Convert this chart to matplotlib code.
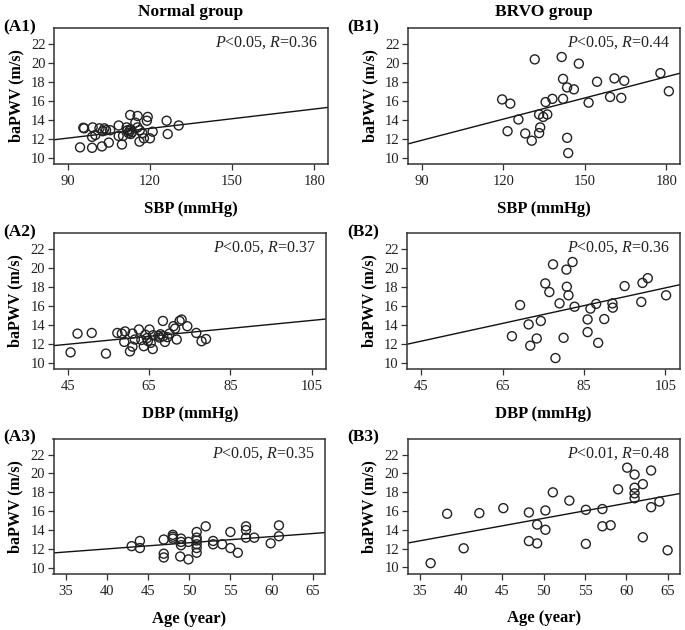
import numpy as np
import matplotlib
matplotlib.use("Agg")
import matplotlib.pyplot as plt

plt.rcParams['font.family'] = ['Liberation Serif', 'DejaVu Serif']
plt.rcParams['mathtext.fontset'] = 'custom'
plt.rcParams['mathtext.rm'] = 'Liberation Serif'
plt.rcParams['mathtext.it'] = 'Liberation Serif:italic'

# ---------------- data ----------------
# Normal group: SBP vs baPWV
a1_x = [94.5, 95.7, 96.0, 98.9, 99.1, 98.9, 100.1, 101.6, 102.5, 102.8, 103.4, 104.0, 105.0, 105.5,
        108.6, 108.6, 109.8, 110.2, 111.5, 111.8, 112.2, 112.8, 112.9, 113.5, 114.7, 115.5, 115.5,
        116.3, 116.2, 117.2, 117.8, 118.9, 119.2, 120.0, 121.0, 126.1, 126.5, 130.5, 112.5, 113.0]
a1_y = [11.1, 13.16, 13.1, 11.05, 13.2, 12.2, 12.4, 13.1, 11.2, 12.8, 13.1, 12.9, 11.6, 12.9,
        13.4, 12.3, 11.4, 12.3, 13.2, 12.9, 12.6, 14.5, 13.0, 12.7, 13.7, 14.4, 13.2,
        12.9, 11.7, 12.6, 12.05, 13.9, 14.3, 12.05, 12.75, 13.9, 12.5, 13.4, 12.8, 12.5]

# Normal group: DBP vs baPWV
a2_x = [45.7, 47.4, 50.9, 54.4, 57.2, 58.3, 59.1, 58.9, 60.3, 60.9, 60.9, 61.5, 62.5, 63.1, 63.7,
        64.1, 64.5, 64.7, 65.1, 65.4, 65.9, 67.3, 67.6, 67.8, 68.4, 68.5, 68.9, 70.0, 71.0, 71.4,
        71.8, 72.5, 73.0, 74.4, 76.6, 77.9, 79.0, 66.0, 69.5]
a2_y = [11.1, 13.07, 13.14, 10.97, 13.14, 13.07, 13.3, 12.2, 11.2, 11.7, 13.07, 12.45, 13.5, 12.4, 11.75,
        12.95, 12.6, 12.3, 13.5, 12.1, 11.45, 12.85, 12.65, 13.0, 14.4, 12.8, 12.2, 13.07, 13.85, 13.6,
        12.45, 14.4, 14.55, 13.85, 13.14, 12.27, 12.5, 12.9, 12.7]

# Normal group: Age vs baPWV
a3_x = [43, 44, 44, 46.9, 46.9, 46.9, 48, 48, 48, 49, 49, 49, 48.9, 49.9, 49.9, 50.9, 50.9, 50.9,
        50.9, 50.9, 50.9, 52, 52.9, 52.9, 54, 55, 55, 55.9, 56.9, 56.9, 56.9, 57.9, 59.9, 60.9, 60.9]
a3_y = [12.3, 12.85, 12.1, 13.0, 11.5, 11.1, 13.5, 13.3, 13.1, 13.1, 12.75, 12.4, 11.2, 12.75, 10.9,
        13.8, 13.2, 12.9, 12.5, 12.1, 11.6, 14.4, 12.85, 12.5, 12.5, 13.8, 12.1, 11.6, 14.4, 14.0,
        13.2, 13.2, 12.6, 14.5, 13.35]

# BRVO group: SBP vs baPWV
b1_x = [119.6, 122.6, 121.6, 125.6, 128.1, 131.6, 130.5, 133.2, 133.6, 133.2, 134.7, 135.6, 136.2,
        138.1, 141.5, 142.0, 142.0, 143.5, 143.5, 143.9, 146.0, 147.8, 151.4, 154.5, 159.3, 160.9,
        163.4, 164.5, 177.8, 180.9]
b1_y = [16.14, 15.7, 12.8, 14.03, 12.56, 20.35, 11.8, 12.6, 13.2, 14.56, 14.3, 15.86, 14.56,
        16.2, 20.6, 18.3, 16.2, 17.4, 12.1, 10.5, 17.2, 19.9, 15.8, 18.0, 16.4, 18.35,
        16.3, 18.1, 18.9, 17.0]

# BRVO group: DBP vs baPWV
b2_x = [67.3, 69.3, 71.4, 71.8, 73.4, 74.4, 75.5, 76.5, 77.4, 78.0, 79.0, 80.0, 80.7, 80.8, 81.2,
        82.2, 82.7, 85.9, 85.9, 86.6, 88.0, 88.5, 90.0, 92.0, 92.1, 95.0, 99.1, 99.4, 100.7, 105.2]
b2_y = [12.8, 16.07, 14.04, 11.8, 12.56, 14.4, 18.35, 17.44, 20.35, 10.5, 16.25, 12.63, 19.8, 18.0, 17.1,
        20.6, 15.9, 14.56, 13.23, 15.7, 16.2, 12.1, 14.6, 16.25, 15.8, 18.07, 16.4, 18.4, 18.9, 17.1]

# BRVO group: Age vs baPWV
b3_x = [36.3, 38.3, 40.3, 42.2, 45.1, 48.2, 48.2, 49.2, 49.2, 50.2, 50.2, 51.1, 53.1, 55.1, 55.1,
        57.1, 57.1, 58.1, 59.0, 60.1, 61.0, 61.0, 61.0, 61.0, 62.0, 62.0, 63.0, 63.0, 64.0, 65.0]
b3_y = [10.45, 15.7, 12.03, 15.77, 16.3, 15.84, 12.8, 12.55, 14.55, 16.05, 14.0, 17.98, 17.1, 16.12, 12.5,
        16.2, 14.37, 14.48, 18.3, 20.6, 19.87, 18.47, 17.87, 17.35, 18.85, 13.2, 20.3, 16.4, 17.0, 11.82]

# regression lines (intercept, slope)
fit_intercepts = [9.01, 10.07, 9.40, 5.15, 8.08, 7.24]
fit_slopes = [0.034, 0.0418, 0.0652, 0.0743, 0.0933, 0.1596]

panel_labels = ['(A1)', '(A2)', '(A3)', '(B1)', '(B2)', '(B3)']
stats_text = [r'$P$<0.05, $R$=0.36', r'$P$<0.05, $R$=0.37', r'$P$<0.05, $R$=0.35',
              r'$P$<0.05, $R$=0.44', r'$P$<0.05, $R$=0.36', r'$P$<0.01, $R$=0.48']
x_labels = ['SBP (mmHg)', 'DBP (mmHg)', 'Age (year)']
x_ticks = [[90, 120, 150, 180], [45, 65, 85, 105], [35, 40, 45, 50, 55, 60, 65]]
x_lims = [(85, 185), (41.5, 108.5), (33.5, 66.5)]
y_ticks = [10, 12, 14, 16, 18, 20, 22]
group_titles = ['Normal group', 'BRVO group']

xs = [a1_x, a2_x, a3_x, b1_x, b2_x, b3_x]
ys = [a1_y, a2_y, a3_y, b1_y, b2_y, b3_y]

# ---------------- layout (pixels) ----------------
W, H = 685, 630
fig = plt.figure(figsize=(W / 100, H / 100), dpi=100)

# left, right, top, bottom in pixels
boxes = [(54, 328, 28, 164), (53.5, 326, 233, 369), (53.5, 325, 439, 574),
         (408, 680, 28, 164), (407, 679.5, 233, 369), (407.5, 680, 439, 573.5)]

spine_col = '#333333'
for i in range(6):
    l, r, t, b = boxes[i]
    ax = fig.add_axes([l / W, (H - b) / H, (r - l) / W, (b - t) / H])
    row = i % 3
    ax.scatter(xs[i], ys[i], s=42, facecolors='none', edgecolors='#222222', linewidths=1.0, zorder=3)
    xl = np.array(x_lims[row])
    ax.plot(xl, fit_intercepts[i] + fit_slopes[i] * xl, color='#111111', lw=1.0, zorder=2)
    ax.set_xlim(*x_lims[row])
    ax.set_ylim(9.35, 23.65)
    ax.set_xticks(x_ticks[row])
    ax.set_yticks(y_ticks)
    ax.tick_params(axis='both', direction='out', length=4, width=0.9, color=spine_col,
                   labelsize=10.5, pad=2, labelcolor='#222222')
    ax.tick_params(axis='x', pad=4)
    for sp in ax.spines.values():
        sp.set_color(spine_col)
        sp.set_linewidth(1.1)
    ax.set_ylabel('baPWV (m/s)', fontsize=11.5, fontweight='bold', labelpad=5)
    ax.set_xlabel(x_labels[row], fontsize=12, fontweight='bold', labelpad=9)
    ax.text(0.965, 0.89, stats_text[i], transform=ax.transAxes, ha='right', va='center',
            fontsize=11.5, color='#222222')
    # panel label
    lx = 3 if i < 3 else 347
    ly = [27, 232, 437][row]
    fig.text(lx / W, (H - ly) / H, panel_labels[i], ha='left', va='center',
             fontsize=12.5, fontweight='bold')
    if row == 0:
        cx = (l + r) / 2
        fig.text(cx / W, (H - 12) / H, group_titles[i // 3], ha='center', va='center',
                 fontsize=12.5, fontweight='bold')

fig.savefig('out.png', dpi=100)
